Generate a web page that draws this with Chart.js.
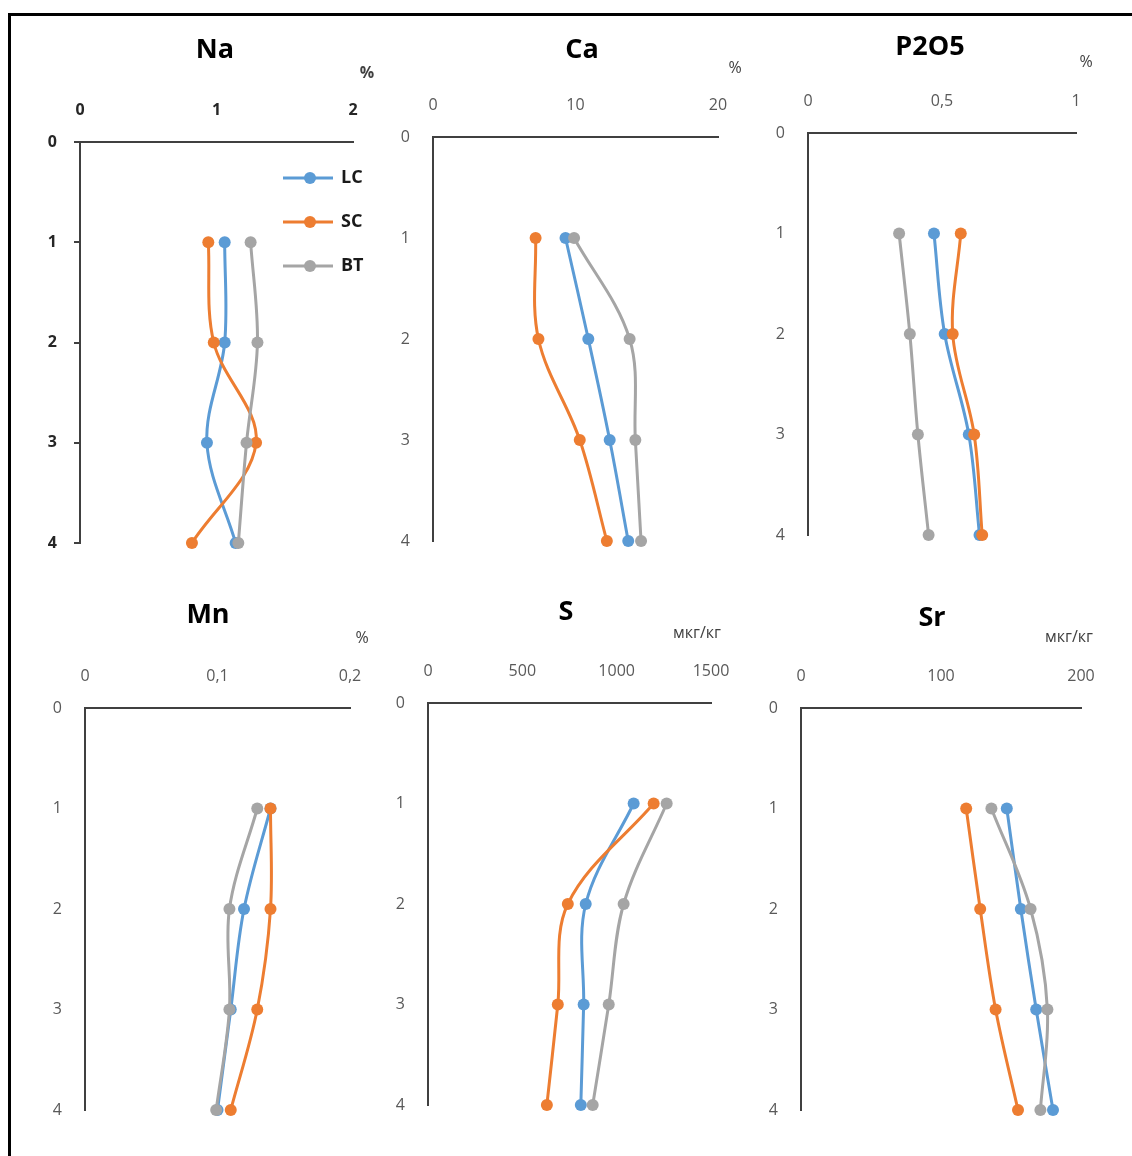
<!DOCTYPE html>
<html>
<head>
<meta charset="utf-8">
<title>Профили элементов</title>
<script src="https://cdn.jsdelivr.net/npm/chart.js@4.4.0/dist/chart.umd.min.js"></script>
<style>
  body { margin: 0; background: #fff; }
  #page { position: relative; width: 1132px; height: 1156px; overflow: hidden; background: #fff; }
  #frame { position: absolute; left: 8px; top: 13px; width: 1200px; height: 1200px;
           border-top: 3px solid #000; border-left: 3px solid #000; }
  #page canvas { position: absolute; }
</style>
</head>
<body>
<div id="page"><div id="frame"></div></div>
<script>
// ---------- DATA ----------
const depths = [1, 2, 3, 4];
const seriesNames = ["LC", "SC", "BT"];
const elements = ["Na", "Ca", "P2O5", "Mn", "S", "Sr"];
const units = ["%", "%", "%", "%", "мкг/кг", "мкг/кг"];
const xMax = [2, 20, 1, 0.2, 1500, 200];
const xStep = [1, 10, 0.5, 0.1, 500, 100];
const depthMax = 4;

const naLC = [1.06, 1.06, 0.93, 1.14];
const naSC = [0.94, 0.98, 1.29, 0.82];
const naBT = [1.25, 1.30, 1.22, 1.16];

const caLC = [9.3, 10.9, 12.4, 13.7];
const caSC = [7.2, 7.4, 10.3, 12.2];
const caBT = [9.9, 13.8, 14.2, 14.6];

const p2o5LC = [0.47, 0.51, 0.60, 0.64];
const p2o5SC = [0.57, 0.54, 0.62, 0.65];
const p2o5BT = [0.34, 0.38, 0.41, 0.45];

const mnLC = [0.14, 0.12, 0.11, 0.10];
const mnSC = [0.14, 0.14, 0.13, 0.11];
const mnBT = [0.13, 0.109, 0.109, 0.099];

const sLC = [1090, 836, 825, 810];
const sSC = [1196, 741, 688, 630];
const sBT = [1265, 1037, 958, 873];

const srLC = [147, 157, 168, 180];
const srSC = [118, 128, 139, 155];
const srBT = [136, 164, 176, 171];

const panelValues = [
  [naLC, naSC, naBT],
  [caLC, caSC, caBT],
  [p2o5LC, p2o5SC, p2o5BT],
  [mnLC, mnSC, mnBT],
  [sLC, sSC, sBT],
  [srLC, srSC, srBT]
];

// ---------- LAYOUT / STYLE ----------
const colors = ["#5B9BD5", "#ED7D31", "#A5A5A5"];
// plot area in page pixels, title and unit centres
const panels = [
  { l: 80,  t: 142, r: 353,  b: 543,  title: [215, 50],  unit: [367, 73],  bold: true, legend: [283, 178, 44] },
  { l: 433, t: 137, r: 718,  b: 541,  title: [582, 50],  unit: [735, 68] },
  { l: 808, t: 133, r: 1076, b: 535,  title: [930, 47],  unit: [1086, 62] },
  { l: 85,  t: 708, r: 350,  b: 1110, title: [208, 615], unit: [362, 638] },
  { l: 428, t: 703, r: 711,  b: 1105, title: [566, 612], unit: [697, 633] },
  { l: 801, t: 708, r: 1081, b: 1110, title: [932, 618], unit: [1069, 637] }
];
const AXIS_W = 80, AXIS_H = 125, PAD_R = 50, PAD_B = 42;
const FONT = "'Open Sans', 'Noto Sans', sans-serif";

const panelText = {
  id: "panelText",
  afterDraw(chart, args, opts) {
    const ctx = chart.ctx;
    ctx.save();
    ctx.textAlign = "center";
    ctx.textBaseline = "middle";
    ctx.fillStyle = "#000";
    ctx.font = "bold 27px " + FONT;
    ctx.fillText(opts.title, opts.titleX, opts.titleY);
    ctx.fillStyle = "#404040";
    ctx.font = (opts.bold ? "bold " : "") + "16px " + FONT;
    ctx.fillText(opts.unit, opts.unitX, opts.unitY);

    if (opts.legend) {
      const [lx, ly, gap] = opts.legend;
      chart.data.datasets.forEach((ds, i) => {
        const y = ly + i * gap;
        ctx.strokeStyle = ds.borderColor;
        ctx.lineWidth = 3;
        ctx.beginPath();
        ctx.moveTo(lx, y);
        ctx.lineTo(lx + 50, y);
        ctx.stroke();
        ctx.fillStyle = ds.backgroundColor;
        ctx.beginPath();
        ctx.arc(lx + 27, y, 6, 0, Math.PI * 2);
        ctx.fill();
        ctx.fillStyle = "#1a1a1a";
        ctx.font = "bold 18px " + FONT;
        ctx.textAlign = "left";
        ctx.fillText(ds.label, lx + 58, y);
      });
    }
    ctx.restore();
  }
};

const page = document.getElementById("page");
const fmt = v => String(v).replace(".", ",");

panels.forEach((p, k) => {
  const left = p.l - AXIS_W, top = p.t - AXIS_H;
  const canvas = document.createElement("canvas");
  canvas.width = p.r - p.l + AXIS_W + PAD_R;
  canvas.height = p.b - p.t + AXIS_H + PAD_B;
  canvas.style.left = left + "px";
  canvas.style.top = top + "px";
  page.appendChild(canvas);

  const tickFont = { family: FONT, size: 16, weight: p.bold ? "bold" : "normal" };
  const tickColor = p.bold ? "#262626" : "#595959";

  new Chart(canvas, {
    type: "scatter",
    data: {
      datasets: seriesNames.map((name, i) => ({
        label: name,
        data: panelValues[k][i].map((v, j) => ({ x: v, y: depths[j] })),
        showLine: true,
        tension: 0.35,
        borderColor: colors[i],
        backgroundColor: colors[i],
        borderWidth: 3,
        pointRadius: 6,
        pointHoverRadius: 6,
        pointBorderWidth: 0,
        order: 3 - i,
        clip: false
      }))
    },
    options: {
      responsive: false,
      animation: false,
      layout: { padding: { left: 0, top: 0, right: PAD_R, bottom: PAD_B } },
      plugins: {
        legend: { display: false },
        tooltip: { enabled: false },
        panelText: {
          title: elements[k],
          unit: units[k],
          bold: p.bold,
          titleX: p.title[0] - left, titleY: p.title[1] - top,
          unitX: p.unit[0] - left, unitY: p.unit[1] - top,
          legend: p.legend ? [p.legend[0] - left, p.legend[1] - top, p.legend[2]] : null
        }
      },
      scales: {
        x: {
          type: "linear",
          position: "top",
          min: 0,
          max: xMax[k],
          afterFit: s => { s.height = AXIS_H; },
          ticks: { stepSize: xStep[k], padding: 22, color: tickColor, font: tickFont, callback: fmt, maxRotation: 0 },
          grid: { display: true, drawOnChartArea: false, drawTicks: false },
          border: { display: true, color: "#404040", width: 2 }
        },
        y: {
          type: "linear",
          reverse: true,
          min: 0,
          max: depthMax,
          afterFit: s => { s.width = AXIS_W; },
          ticks: { stepSize: 1, padding: p.bold ? 17 : 23, color: tickColor, font: tickFont },
          grid: { display: true, drawOnChartArea: false, drawTicks: !!p.bold, tickLength: 6, color: "#404040", lineWidth: 2 },
          border: { display: true, color: "#404040", width: 2 }
        }
      }
    },
    plugins: [panelText]
  });
});
</script>
</body>
</html>
